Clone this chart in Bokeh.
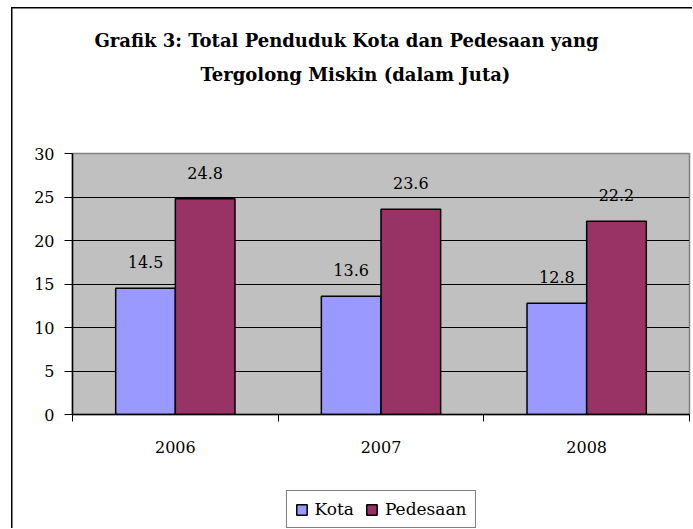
import numpy as np
from bokeh.plotting import figure
from bokeh.layouts import column
from bokeh.models import (ColumnDataSource, FixedTicker, Range1d, Legend, LegendItem, Title)
from bokeh.transform import dodge
from bokeh.core.properties import value
from bokeh.embed import file_html
from bokeh.resources import INLINE

# ---- data ----
years = ["2006", "2007", "2008"]
kota = [14.5, 13.6, 12.8]
pedesaan = [24.8, 23.6, 22.2]
y_ticks = [0, 5, 10, 15, 20, 25, 30]
grid_ticks = [5, 10, 15, 20, 25]
title_line1 = "Grafik 3: Total Penduduk Kota dan Pedesaan yang"
title_line2 = "Tergolong Miskin (dalam Juta)"
series_names = ["Kota", "Pedesaan"]

FONT = "DejaVu Serif"
KOTA_COLOR = "#9999FF"
PED_COLOR = "#993366"

xc = np.arange(len(years)) + 0.5
src = ColumnDataSource(dict(
    x=xc,
    kota=kota,
    pedesaan=pedesaan,
    kota_lbl=[f"{v:g}" for v in kota],
    ped_lbl=[f"{v:g}" for v in pedesaan],
))

W = 692
H1 = 480   # main chart
H2 = 48    # legend strip
p = figure(width=W, height=H1, output_backend="svg", toolbar_location=None,
           x_range=Range1d(0, len(years)), y_range=Range1d(0, 30),
           min_border_left=72, min_border_right=W - 689, min_border_top=153,
           min_border_bottom=H1 - 414, title=None)

p.background_fill_color = "#C0C0C0"
p.border_fill_color = "white"
p.border_fill_alpha = 0
p.outline_line_color = "#808080"
p.outline_line_width = 1.5
# outer chart border (left and top edges visible; chart continues past the window)
p.styles = {
    "background-color": "white",
    "background-image": "linear-gradient(#000, #000), linear-gradient(#000, #000)",
    "background-repeat": "no-repeat",
    "background-size": "1.5px 100%, 100% 1.5px",
    "background-position": "11px 7px, 11px 7px",
}

bw = 0.29
bar_style = dict(line_color="black", line_width=1.5)
r_k = p.vbar(x=dodge("x", -bw / 2, range=p.x_range), top="kota", width=bw, bottom=0,
             source=src, fill_color=KOTA_COLOR, **bar_style)
r_p = p.vbar(x=dodge("x", bw / 2, range=p.x_range), top="pedesaan", width=bw, bottom=0,
             source=src, fill_color=PED_COLOR, **bar_style)

p.text(x=dodge("x", -bw / 2, range=p.x_range), y="kota", text="kota_lbl", source=src,
       text_font=value(FONT), text_font_size="16px", text_color="black",
       text_align="center", text_baseline="alphabetic", y_offset=-26)
p.text(x=dodge("x", bw / 2, range=p.x_range), y="pedesaan", text="ped_lbl", source=src,
       text_font=value(FONT), text_font_size="16px", text_color="black",
       text_align="center", text_baseline="alphabetic", y_offset=-26)

# grids
p.xgrid.visible = False
p.ygrid.ticker = FixedTicker(ticks=grid_ticks)
p.ygrid.grid_line_color = "black"
p.ygrid.grid_line_width = 1

# y axis
yax = p.yaxis[0]
yax.ticker = FixedTicker(ticks=y_ticks)
yax.major_tick_out = 8
yax.major_tick_in = 0
yax.minor_tick_out = 0
yax.minor_tick_in = 0
yax.axis_line_color = "black"
yax.axis_line_width = 1.5
yax.major_tick_line_color = "black"
yax.major_label_standoff = 10
yax.major_label_text_font = FONT
yax.major_label_text_font_size = "16px"
yax.major_label_text_color = "black"

# x axis: labels at category centres, tick marks at boundaries
xax = p.xaxis[0]
xax.ticker = FixedTicker(ticks=list(xc), minor_ticks=list(range(len(years) + 1)))
xax.major_label_overrides = {float(c): y for c, y in zip(xc, years)}
xax.major_tick_out = 0
xax.major_tick_in = 0
xax.minor_tick_out = 7
xax.minor_tick_in = 0
xax.minor_tick_line_color = "black"
xax.axis_line_color = "black"
xax.axis_line_width = 1.5
xax.major_label_standoff = 19
xax.major_label_text_font = FONT
xax.major_label_text_font_size = "16px"
xax.major_label_text_color = "black"

# title (two lines) with a blank spacer between it and the plot area
spacer = Title(text=" ", text_font=FONT, text_font_size="18px", standoff=40)
t2 = Title(text=title_line2, align="left", offset=128, text_font=FONT,
           text_font_size="18px", text_font_style="bold", text_color="black", standoff=11)
t1 = Title(text=title_line1, align="left", offset=22, text_font=FONT,
           text_font_size="18px", text_font_style="bold", text_color="black", standoff=11)
p.add_layout(spacer, "above")
p.add_layout(t2, "above")
p.add_layout(t1, "above")

# ---- legend strip (second figure directly below) ----
p2 = figure(width=W, height=H2, output_backend="svg", toolbar_location=None,
            x_range=Range1d(0, len(years)), y_range=Range1d(0, 30),
            x_axis_type=None, y_axis_type=None,
            min_border_left=65, min_border_right=0, min_border_top=10, min_border_bottom=0)
p2.xgrid.visible = False
p2.ygrid.visible = False
p2.outline_line_color = None
p2.background_fill_alpha = 0
p2.border_fill_alpha = 0
p2.styles = {
    "background-color": "white",
    "background-image": "linear-gradient(#000, #000)",
    "background-repeat": "no-repeat",
    "background-size": "1.5px 100%",
    "background-position": "11px 0px",
}
# legend keys: same series styles, renderers hidden (only the legend shows them)
k_key = p2.vbar(x="x", top="kota", width=bw, bottom=0, source=src,
                fill_color=KOTA_COLOR, **bar_style)
p_key = p2.vbar(x="x", top="pedesaan", width=bw, bottom=0, source=src,
                fill_color=PED_COLOR, **bar_style)
k_key.visible = False
p_key.visible = False

legend = Legend(items=[LegendItem(label=series_names[0], renderers=[k_key]),
                       LegendItem(label=series_names[1], renderers=[p_key])],
                orientation="horizontal", location="center",
                label_text_font=FONT, label_text_font_size="17px",
                label_text_color="black", glyph_width=13, glyph_height=13,
                label_standoff=7, spacing=11, padding=8, margin=0,
                border_line_color="black", border_line_width=1,
                background_fill_color="white", background_fill_alpha=1,
                inactive_fill_alpha=0)
p2.add_layout(legend)

layout = column(p, p2, spacing=0)
open("out.html", "w").write(file_html(layout, INLINE))
